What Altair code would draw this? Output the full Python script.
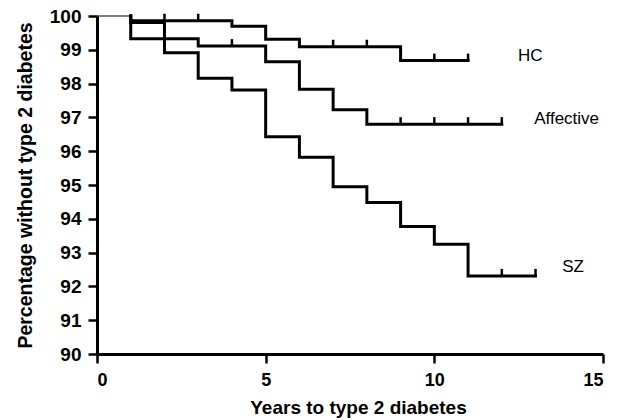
import altair as alt
import pandas as pd

# Kaplan-Meier step curves (year, % without type 2 diabetes)
hc_years = [1, 1, 4, 5, 6, 9, 11]
hc_pct = [100, 99.86, 99.70, 99.31, 99.09, 98.68, 98.68]
aff_years = [1, 1, 2, 3, 5, 6, 7, 8, 12]
aff_pct = [100, 99.81, 99.33, 99.11, 98.65, 97.83, 97.23, 96.80, 96.80]
sz_years = [1, 1, 2, 3, 4, 5, 6, 7, 8, 9, 10, 11, 13]
sz_pct = [100, 99.33, 98.91, 98.16, 97.81, 96.43, 95.82, 94.95, 94.48, 93.77, 93.25, 92.31, 92.31]

# shared start before first event
start_years = [0, 1]
start_pct = [100, 100]

# censoring marks
hc_cens_years = [2, 3, 7, 8, 10, 11]
hc_cens_pct = [99.86, 99.86, 99.09, 99.09, 98.68, 98.68]
aff_cens_years = [4, 9, 10, 11, 12]
aff_cens_pct = [99.11, 96.80, 96.80, 96.80, 96.80]
sz_cens_years = [12, 13]
sz_cens_pct = [92.31, 92.31]

# curve labels
label_text = ["HC", "Affective", "SZ"]
label_x = [12.48, 12.96, 13.79]
label_y = [98.82, 96.94, 92.56]

y_ticks = list(range(90, 101))
x_ticks = [0, 5, 10, 15]

curves = pd.concat([
    pd.DataFrame({"year": hc_years, "pct": hc_pct, "group": "HC"}),
    pd.DataFrame({"year": aff_years, "pct": aff_pct, "group": "Affective"}),
    pd.DataFrame({"year": sz_years, "pct": sz_pct, "group": "SZ"}),
], ignore_index=True)
start = pd.DataFrame({"year": start_years, "pct": start_pct})
cens = pd.concat([
    pd.DataFrame({"year": hc_cens_years, "pct": hc_cens_pct, "group": "HC"}),
    pd.DataFrame({"year": aff_cens_years, "pct": aff_cens_pct, "group": "Affective"}),
    pd.DataFrame({"year": sz_cens_years, "pct": sz_cens_pct, "group": "SZ"}),
], ignore_index=True)
labels = pd.DataFrame({"text": label_text, "year": label_x, "pct": label_y})

FONT = "Liberation Sans"

x_scale = alt.Scale(domain=[0, 15], nice=False, zero=False)
y_scale = alt.Scale(domain=[90, 100], nice=False, zero=False)

x_axis = alt.Axis(
    values=x_ticks, title="Years to type 2 diabetes", grid=False,
    labelFont=FONT, labelFontSize=18, labelFontWeight="bold", labelColor="black",
    labelPadding=8, tickSize=9, tickWidth=2.5, tickColor="black",
    domainWidth=3, domainColor="black", labelOverlap=False,
    titleFont=FONT, titleFontSize=19, titleFontWeight="bold", titleColor="black",
    titleX=261, titleY=59, titleAlign="center", titleBaseline="alphabetic",
)
y_axis = alt.Axis(
    values=y_ticks, title="Percentage without type 2 diabetes", grid=False,
    labelFont=FONT, labelFontSize=19, labelFontWeight="bold", labelColor="black",
    labelPadding=7, tickSize=9, tickWidth=2.5, tickColor="black",
    domainWidth=3, domainColor="black", labelOverlap=False,
    titleFont=FONT, titleFontSize=19.5, titleFontWeight="bold", titleColor="black",
    titleX=-72, titleY=169, titleAngle=-90, titleAlign="center", titleBaseline="middle",
)

X = alt.X("year:Q", scale=x_scale, axis=x_axis)
Y = alt.Y("pct:Q", scale=y_scale, axis=y_axis)

start_line = alt.Chart(start).mark_line(color="black", strokeWidth=1).encode(x=X, y=Y)

lines = alt.Chart(curves).mark_line(
    color="black", strokeWidth=3, interpolate="step-after", strokeCap="square"
).encode(x=X, y=Y, detail="group:N")

ticks = alt.Chart(cens).mark_rule(color="black", strokeWidth=2.5, y2Offset=-7).encode(
    x=X, y=Y, y2="pct:Q",
)

text = alt.Chart(labels).mark_text(
    font=FONT, fontSize=17, color="black", align="left", baseline="middle"
).encode(x=X, y=Y, text="text:N")

chart = alt.layer(start_line, lines, ticks, text).properties(
    width=506, height=338,
    autosize=alt.AutoSizeParams(type="none"),
    padding={"left": 89, "top": 8, "right": 17, "bottom": 64},
    background="white",
).configure_view(stroke=None)

chart.save("out.html", embed_options={"renderer": "svg", "actions": False})
